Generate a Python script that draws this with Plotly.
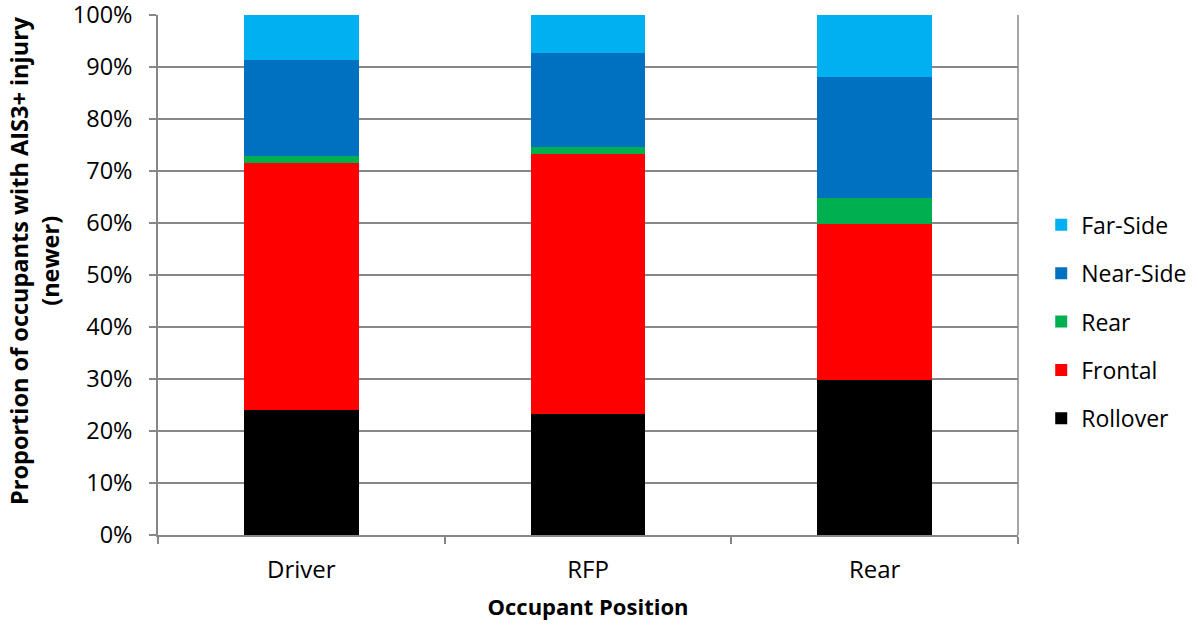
import plotly.graph_objects as go

categories = ["Driver", "RFP", "Rear"]
rollover = [0.240, 0.233, 0.2975]
frontal = [0.475, 0.500, 0.300]
rear = [0.014, 0.013, 0.0515]
near_side = [0.185, 0.180, 0.231]
far_side = [0.086, 0.074, 0.120]

series = [
    ("Rollover", rollover, "#000000"),
    ("Frontal", frontal, "#FF0000"),
    ("Rear", rear, "#00B050"),
    ("Near-Side", near_side, "#0070C0"),
    ("Far-Side", far_side, "#00B0F0"),
]

FONT = "Open Sans"
fig = go.Figure()
for i, (name, vals, color) in enumerate(series):
    fig.add_trace(go.Bar(
        x=categories, y=vals, name=name, legendgroup=name,
        legendrank=len(series) - i,
        marker=dict(color=color, line=dict(width=0)),
        width=0.4,
    ))

grid = "#878787"
fig.update_layout(
    barmode="stack",
    width=1198, height=626,
    margin=dict(l=158, r=180, t=15, b=91, autoexpand=False),
    plot_bgcolor="white", paper_bgcolor="white",
    font=dict(family=FONT, size=23, color="#000000"),
    showlegend=True,
    legend=dict(traceorder="grouped", x=1.027, xanchor="left", y=0.41, yanchor="middle",
                font=dict(size=23), tracegroupgap=15.5, itemwidth=30),
    xaxis=dict(
        title=dict(text="<b>Occupant Position</b>", font=dict(size=22), standoff=16),
        showline=True, linecolor=grid, linewidth=1.5,
        ticks="outside", tickson="boundaries", ticklen=7, tickcolor=grid, tickwidth=1.5,
        ticklabelstandoff=12, tickfont=dict(size=24),
        showgrid=False, automargin=False,
    ),
    yaxis=dict(
        range=[0, 1], dtick=0.1, tickformat=".0%",
        showline=True, linecolor=grid, linewidth=1.5,
        ticks="outside", ticklen=7, tickcolor=grid, tickwidth=1.5,
        ticklabelstandoff=12, tickfont=dict(size=23.5), ticklabeloverflow="allow",
        showgrid=True, gridcolor=grid, gridwidth=1.5,
        zeroline=False, automargin=False,
    ),
)
fig.add_annotation(
    text="<b>Proportion of occupants with AIS3+ injury<br>(newer)</b>",
    xref="paper", yref="paper", x=0, y=0.527, xanchor="center", yanchor="middle",
    xshift=-123, textangle=-90, showarrow=False, font=dict(size=23.5),
)
fig.add_shape(type="line", xref="x domain", yref="y domain", x0=1, x1=1, y0=0, y1=1,
              line=dict(color=grid, width=1.5))

fig.write_html("out.html", config={"displayModeBar": False},
               post_script="document.body.style.margin='0';document.body.style.overflow='hidden';")
